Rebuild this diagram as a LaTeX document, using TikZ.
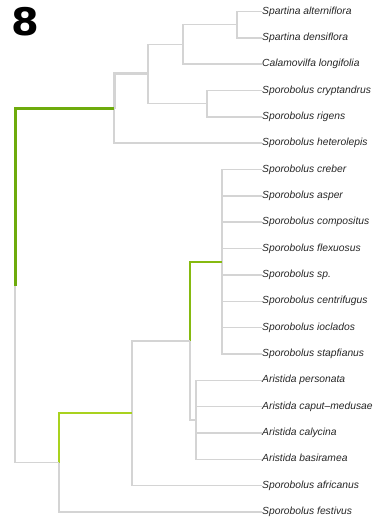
\documentclass[tikz,border=0pt]{standalone}
\usepackage{fontspec}
\setmainfont{Liberation Sans}
\newfontfamily\numfont{DejaVu Sans}
\definecolor{treegray}{HTML}{D4D4D4}
\definecolor{darkgreen}{HTML}{6EAB0C}
\definecolor{midgreen}{HTML}{86BA10}
\definecolor{lightgreen}{HTML}{A9D21E}
\begin{document}
\begin{tikzpicture}[x=1pt,y=-1pt,
  leaf/.style={anchor=west,inner sep=0pt,text height=7.5pt,text depth=2.2pt,font=\fontsize{10.3}{12}\selectfont\itshape,text=black!85},
  br/.style={draw=treegray,line width=1.5pt},
  brthickgray/.style={draw=treegray,line width=3pt},
  brdark/.style={draw=darkgreen,line width=3pt},
  brmid/.style={draw=midgreen,line width=2pt},
  brlight/.style={draw=lightgreen,line width=2pt}]
\useasboundingbox (0,0) rectangle (377,521);
\node[font=\numfont\bfseries\fontsize{38}{40}\selectfont,inner sep=0pt,anchor=north west,xscale=1.05] (title) at (11,7) {8};
% leaves
\def\lx{262}
\node[leaf] (l1) at (\lx,11.5) {Spartina alterniflora};
\node[leaf] (l2) at (\lx,37.8) {Spartina densiflora};
\node[leaf] (l3) at (\lx,64.2) {Calamovilfa longifolia};
\node[leaf] (l4) at (\lx,90.5) {Sporobolus cryptandrus};
\node[leaf] (l5) at (\lx,116.9) {Sporobolus rigens};
\node[leaf] (l6) at (\lx,143.2) {Sporobolus heterolepis};
\node[leaf] (l7) at (\lx,169.5) {Sporobolus creber};
\node[leaf] (l8) at (\lx,195.9) {Sporobolus asper};
\node[leaf] (l9) at (\lx,222.2) {Sporobolus compositus};
\node[leaf] (l10) at (\lx,248.6) {Sporobolus flexuosus};
\node[leaf] (l11) at (\lx,274.9) {Sporobolus sp.};
\node[leaf] (l12) at (\lx,301.3) {Sporobolus centrifugus};
\node[leaf] (l13) at (\lx,327.6) {Sporobolus ioclados};
\node[leaf] (l14) at (\lx,354.0) {Sporobolus stapfianus};
\node[leaf] (l15) at (\lx,380.3) {Aristida personata};
\node[leaf] (l16) at (\lx,406.6) {Aristida caput–medusae};
\node[leaf] (l17) at (\lx,433.0) {Aristida calycina};
\node[leaf] (l18) at (\lx,459.3) {Aristida basiramea};
\node[leaf] (l19) at (\lx,485.7) {Sporobolus africanus};
\node[leaf] (l20) at (\lx,512.0) {Sporobolus festivus};
% internal nodes
\coordinate (nA) at (237,24.65);
\coordinate (nB) at (183,44.4);
\coordinate (nC) at (207,103.7);
\coordinate (nD) at (148,74.0);
\coordinate (nE) at (114,108.6);
\coordinate (nF) at (222,261.75);
\coordinate (nG) at (196,419.8);
\coordinate (nH) at (190,340.8);
\coordinate (nI) at (132,413.2);
\coordinate (nJ) at (59,462.6);
\coordinate (root) at (15,285.6);
% branches
\draw[br] (nA) |- (l1.west);
\draw[br] (nA) |- (l2.west);
\draw[br] (nB) |- (nA);
\draw[br] (nB) |- (l3.west);
\draw[br] (nC) |- (l4.west);
\draw[br] (nC) |- (l5.west);
\draw[br] (nD) |- (nB);
\draw[br] (nD) |- (nC);
\draw[br] (nE) |- (l6.west);
\draw[brthickgray] (nE) |- (nD);
\foreach \i in {7,...,14} {\draw[br] (nF) |- (l\i.west);}
\foreach \i in {15,...,18} {\draw[br] (nG) |- (l\i.west);}
\draw[br] (nH) |- (nG);
\draw[brmid] (nH) |- (nF);
\draw[br] (nI) |- (l19.west);
\draw[br] (nI) |- (nH);
\draw[br] (nJ) |- (l20.west);
\draw[brlight] (nJ) |- (nI);
\draw[br] (root) |- (nJ);
\draw[brdark] (root) |- (nE);
\end{tikzpicture}
\end{document}
